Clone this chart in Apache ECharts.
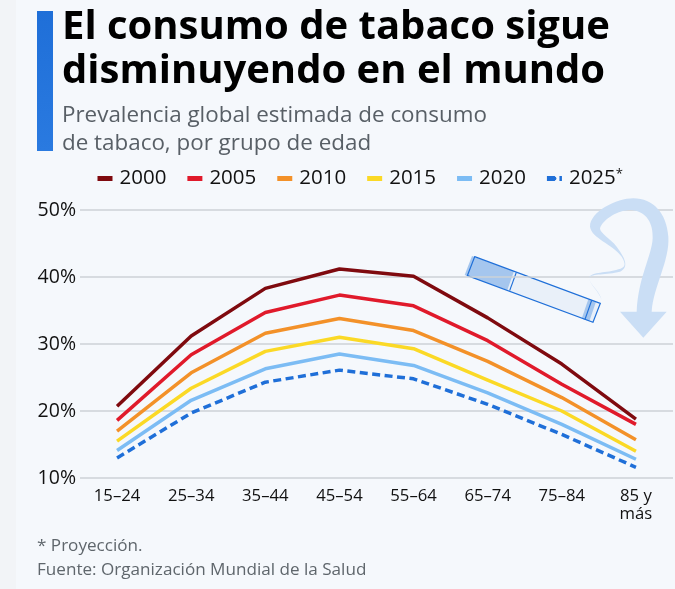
<!DOCTYPE html>
<html>
<head>
<meta charset="utf-8">
<style>
html, body { margin: 0; padding: 0; background: #f5f8fc; }
#chart { width: 675px; height: 589px; }
</style>
<script src="https://cdn.jsdelivr.net/npm/echarts@6/dist/echarts.min.js"></script>
</head>
<body>
<div id="chart"></div>
<script>
var categories = ['15–24', '25–34', '35–44', '45–54', '55–64', '65–74', '75–84', '85 y\nmás'];
var yTicks = { min: 10, max: 50, interval: 10 };

var v2000 = [20.7, 31.2, 38.3, 41.2, 40.1, 33.9, 27.0, 18.8];
var v2005 = [18.6, 28.4, 34.7, 37.3, 35.7, 30.5, 24.0, 18.0];
var v2010 = [17.0, 25.7, 31.6, 33.8, 32.0, 27.4, 22.0, 15.7];
var v2015 = [15.5, 23.4, 28.9, 31.0, 29.3, 24.6, 20.0, 14.0];
var v2020 = [14.1, 21.6, 26.3, 28.5, 26.8, 22.7, 18.0, 12.8];
var v2025 = [13.0, 19.7, 24.3, 26.1, 24.8, 21.0, 16.5, 11.6];

var seriesNames = ['2000', '2005', '2010', '2015', '2020', '2025'];
var seriesValues = [v2000, v2005, v2010, v2015, v2020, v2025];
var seriesColors = ['#7f0a0f', '#e01a2b', '#f39129', '#fbd926', '#7cbcf4', '#1f6fd8'];

var FONT = '"Open Sans", "Noto Sans", sans-serif';

// el componente graphic no admite type:'path', se registra como forma propia
var SMOKE_PATH = 'M485 360 C475 330 450 315 447 293 C455 280 500 285 540 275 C565 262 560 240 530 200 C510 175 480 160 480 145 C490 115 540 88 575 90 C620 95 640 130 638 175 C635 230 595 290 590 395 L540 395 L610 473 L680 395 L635 395 C640 320 690 240 685 170 C680 100 640 55 580 55 C530 55 450 95 450 140 C455 175 515 190 545 230 C560 255 555 262 535 268 C500 280 455 275 447 293 C450 315 478 330 485 360 Z';
echarts.graphic.registerShape('smoke', echarts.graphic.extendPath(SMOKE_PATH, {}));

var buildSeries = function () {
	var out = [];
	for (var i = 0; i < seriesNames.length; i++) {
		out.push({
			name: seriesNames[i],
			type: 'line',
			data: seriesValues[i],
			symbol: 'none',
			z: 10 + seriesNames.length - i,
			itemStyle: { color: seriesColors[i] },
			lineStyle: {
				color: seriesColors[i],
				width: 3.5,
				type: i == 5 ? [8, 4.5] : 'solid',
				cap: 'butt',
				join: 'round'
			}
		});
	}
	return out;
};

// cabecera, pie y dibujo del cigarrillo
var buildGraphic = function () {
	return [
		{ type: 'rect', z: 0, shape: { x: 0, y: 0, width: 16, height: 589 }, style: { fill: '#f2f4f7' } },
		{
			type: 'rect', shape: { x: 37, y: 11, width: 16, height: 140 },
			style: { fill: new echarts.graphic.LinearGradient(0, 0, 0, 1, [
				{ offset: 0, color: '#1f6fd8' }, { offset: 1, color: '#2a7ae0' }
			]) }
		},
		{
			type: 'text', x: 62, y: 6,
			style: { text: 'El consumo de tabaco sigue\ndisminuyendo en el mundo', fill: '#000', font: 'bold 40px ' + FONT, lineHeight: 44 }
		},
		{
			type: 'text', x: 62, y: 102,
			style: { text: 'Prevalencia global estimada de consumo\nde tabaco, por grupo de edad', fill: '#585f66', font: '22.4px ' + FONT, lineHeight: 28 }
		},
		{
			type: 'text', x: 37, y: 534,
			style: { text: '* Proyección.\nFuente: Organización Mundial de la Salud', fill: '#5f666c', font: '17.1px ' + FONT, lineHeight: 24 }
		},
		{
			type: 'group', x: 440, y: 180, scaleX: 1 / 3, scaleY: 1 / 3, z: 1,
			children: [
				{ type: 'smoke', z: 1, shape: {}, style: { fill: '#cadef5' } },
				{ type: 'polygon', shape: { points: [[104, 230], [481, 370], [459, 427], [82, 287]] }, style: { fill: '#e9f0f9' } },
				{ type: 'polygon', shape: { points: [[96, 228], [222, 274], [202, 330], [74, 285]] }, style: { fill: '#a5c6ee' } },
				{ type: 'polygon', shape: { points: [[445, 358], [468, 365], [448, 424], [425, 416]] }, style: { fill: '#a5c6ee' } },
				{ type: 'polygon', shape: { points: [[104, 230], [481, 370], [459, 427], [82, 287]] }, style: { fill: 'none', stroke: '#1f6fd8', lineWidth: 3.5 } },
				{ type: 'line', shape: { x1: 229, y1: 277, x2: 209, y2: 332 }, style: { stroke: '#1f6fd8', lineWidth: 3.5 } },
				{ type: 'line', shape: { x1: 455, y1: 361, x2: 435, y2: 418 }, style: { stroke: '#1f6fd8', lineWidth: 3.5 } }
			]
		}
	];
};

var myChart = echarts.init(document.getElementById('chart'), null, { renderer: 'canvas' });
myChart.setOption({
	backgroundColor: '#f5f8fc',
	animation: false,
	textStyle: { fontFamily: FONT },
	legend: {
		data: seriesNames,
		left: 95,
		top: 168,
		padding: 0,
		itemWidth: 15,
		itemHeight: 5,
		itemGap: 18.5,
		lineStyle: { width: 5, cap: 'butt' },
		textStyle: {
			fontSize: 20.5, color: '#111', fontFamily: FONT, padding: [0, 0, 0, 2],
			rich: { sup: { fontSize: 13, color: '#111', fontFamily: FONT, verticalAlign: 'top', padding: [0, 0, 6, 0] } }
		},
		formatter: function (name) {
			return name == '2025' ? '2025{sup|*}' : name;
		}
	},
	grid: { left: 80, right: 2, top: 210, bottom: 111 },
	xAxis: {
		type: 'category',
		data: categories,
		boundaryGap: true,
		axisLine: { show: false },
		axisTick: { show: false },
		axisLabel: { fontSize: 16.7, color: '#111', margin: 9, lineHeight: 18, interval: 0, fontFamily: FONT }
	},
	yAxis: {
		type: 'value',
		min: yTicks.min,
		max: yTicks.max,
		interval: yTicks.interval,
		axisLine: { show: false },
		axisTick: { show: false },
		axisLabel: { fontSize: 19.5, color: '#111', margin: 4, formatter: '{value}%', fontFamily: FONT },
		splitLine: { lineStyle: { color: '#cdd2d7', width: 1.5 } }
	},
	graphic: buildGraphic(),
	series: buildSeries()
});
</script>
</body>
</html>
